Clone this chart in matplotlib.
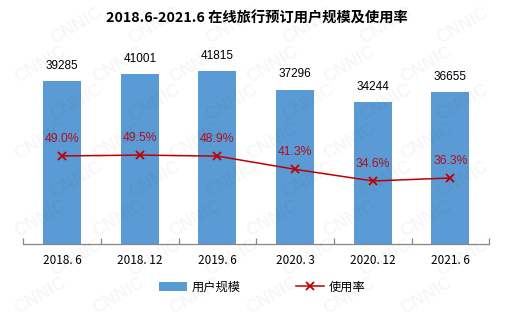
import matplotlib
matplotlib.use("Agg")
import matplotlib.pyplot as plt
import numpy as np

plt.rcParams['font.family'] = ['Liberation Sans', 'Noto Sans CJK SC', 'DejaVu Sans']

periods = ['2018. 6', '2018. 12', '2019. 6', '2020. 3', '2020. 12', '2021. 6']
users = [39285, 41001, 41815, 37296, 34244, 36655]
usage_rate = [49.0, 49.5, 48.9, 41.3, 34.6, 36.3]

bar_color = '#5B9BD5'
line_color = '#C00000'

fig = plt.figure(figsize=(5.14, 3.22), dpi=100)

# faint tiled watermark, kept inside the figure
for row in range(8):
    for col in range(7):
        fx = 0.08 + col * 0.15 + (row % 2) * 0.07
        fy = 0.08 + row * 0.12
        if fx > 0.92 or fy > 0.92:
            continue
        fig.text(fx, fy, 'CNNIC', fontsize=13, fontweight='bold', color='#000000',
                 alpha=0.035, rotation=30, ha='center', va='center', zorder=0)

ax = fig.add_axes([23.3 / 514, 78 / 322, 466 / 514, 207 / 322])
ax.patch.set_alpha(0)
x = np.arange(len(periods))

bars = ax.bar(x, users, width=0.49, color=bar_color, zorder=2, label='用户规模')
for xi, v in zip(x, users):
    ax.text(xi, v + 2200, str(v), ha='center', va='bottom', fontsize=8.5, color='#000000')

ax.set_ylim(0, 50000)
ax.set_xlim(-0.5, len(periods) - 0.5)
ax.set_yticks([])
for s in ['top', 'left', 'right']:
    ax.spines[s].set_visible(False)
ax.spines['bottom'].set_color('#868686')
ax.spines['bottom'].set_linewidth(0.9)

ax.set_xticks(x)
ax.set_xticklabels(periods, fontsize=8.5, family=['Noto Sans CJK SC'])
ax.tick_params(axis='x', length=0, pad=7)
ax.set_xticks(np.arange(-0.5, len(periods)), minor=True)
ax.tick_params(axis='x', which='minor', direction='in', length=4, color='#868686', width=0.9)

ax2 = ax.twinx()
ax2.set_ylim(-1.7, 117.5)
ax2.axis('off')
line, = ax2.plot(x, usage_rate, color=line_color, lw=1.1, marker='x', markersize=6,
                 markeredgewidth=1.3, zorder=3, label='使用率')
for xi, r in zip(x, usage_rate):
    ax2.text(xi, r + 6.5, f'{r:.1f}%', ha='center', va='bottom', fontsize=8.8, color='#B0101C')

fig.text(0.5, 0.944, '2018.6-2021.6 在线旅行预订用户规模及使用率', ha='center', va='center',
         fontsize=10.3, fontweight='bold', family=['Noto Sans CJK SC'])

fig.legend([bars, line], ['用户规模', '使用率'], loc='center', bbox_to_anchor=(0.51, 0.108),
           ncol=2, frameon=False, columnspacing=4.5, handlelength=2.3,
           handletextpad=0.4, prop={'family': 'Noto Sans CJK SC', 'size': 8.8})

fig.savefig('out.png', dpi=100)
